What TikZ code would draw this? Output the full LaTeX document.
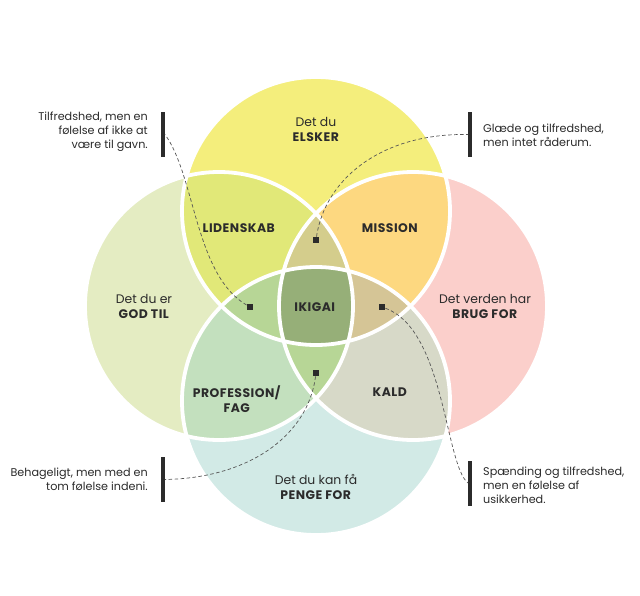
\documentclass[tikz,border=0pt]{standalone}
\usepackage{fontspec}
\setmainfont{Poppins}[BoldFeatures={LetterSpace=4}]
\definecolor{cTop}{HTML}{F4EE7C}
\definecolor{cLeft}{HTML}{E4ECC2}
\definecolor{cRight}{HTML}{FBCFCB}
\definecolor{cBot}{HTML}{D2EAE6}
\definecolor{cTL}{HTML}{E1E878}
\definecolor{cTR}{HTML}{FDD880}
\definecolor{cLB}{HTML}{C3E0BE}
\definecolor{cRB}{HTML}{D7D9C8}
\definecolor{cTLR}{HTML}{D4CD8C}
\definecolor{cTLB}{HTML}{B7D696}
\definecolor{cTRB}{HTML}{D5C596}
\definecolor{cLRB}{HTML}{B7D696}
\definecolor{cAll}{HTML}{96AF78}
\definecolor{ink}{HTML}{2B2B2B}
\def\circT{(316,211) circle[radius=134pt]}
\def\circL{(219,306) circle[radius=134pt]}
\def\circR{(413,306) circle[radius=134pt]}
\def\circB{(316,401) circle[radius=134pt]}
\tikzset{
  lbl/.style={text=ink, font=\fontsize{12.4}{15}\selectfont, align=center, inner sep=0pt},
  side/.style={text=ink, font=\fontsize{11.2}{14}\selectfont, inner sep=0pt},
  sq/.style={fill=ink, minimum size=6.5pt, inner sep=0pt},
  bar/.style={fill=ink, minimum width=3.5pt, minimum height=45pt, inner sep=0pt},
  conn/.style={draw=ink!80, line width=0.7pt, dash pattern=on 3.5pt off 2.5pt},
  ring/.style={draw=white, line width=3.8pt}
}
\begin{document}
\begin{tikzpicture}[x=1pt,y=-1pt]
\useasboundingbox[fill=white] (0,0) rectangle (640,595);
% singles
\fill[cTop] \circT; \fill[cLeft] \circL; \fill[cRight] \circR; \fill[cBot] \circB;
% pairs
\begin{scope}\clip \circT; \fill[cTL] \circL; \fill[cTR] \circR; \end{scope}
\begin{scope}\clip \circB; \fill[cLB] \circL; \fill[cRB] \circR; \end{scope}
% triples
\begin{scope}\clip \circT; \clip \circL; \fill[cTLR] \circR; \end{scope}
\begin{scope}\clip \circT; \clip \circL; \fill[cTLB] \circB; \end{scope}
\begin{scope}\clip \circT; \clip \circR; \fill[cTRB] \circB; \end{scope}
\begin{scope}\clip \circL; \clip \circR; \fill[cLRB] \circB; \end{scope}
% all
\begin{scope}\clip \circT; \clip \circL; \clip \circR; \fill[cAll] \circB; \end{scope}
% rings
\draw[ring] \circT; \draw[ring] \circL; \draw[ring] \circR; \draw[ring] \circB;
% labels
\node[lbl] (elsker) at (316,129) {Det du\\\textbf{ELSKER}};
\node[lbl] (lidenskab) at (239,228) {\textbf{LIDENSKAB}};
\node[lbl] (mission) at (390,228) {\textbf{MISSION}};
\node[lbl] (godtil) at (144,306) {Det du er\\\textbf{GOD TIL}};
\node[lbl] (ikigai) at (315,307) {\textbf{IKIGAI}};
\node[lbl] (brug) at (485,306) {Det verden har\\\textbf{BRUG FOR}};
\node[lbl] (prof) at (237,399) {\textbf{PROFESSION/}\\\textbf{FAG}};
\node[lbl] (kald) at (390,392) {\textbf{KALD}};
\node[lbl] (penge) at (316,487) {Det du kan få\\\textbf{PENGE FOR}};
% squares
\node[sq] (sqT) at (316,240) {};
\node[sq] (sqL) at (250,307) {};
\node[sq] (sqR) at (382,307) {};
\node[sq] (sqB) at (316,373) {};
% bars
\node[bar] (barTL) at (163,134.5) {};
\node[bar] (barTR) at (470,134.5) {};
\node[bar] (barBL) at (163,479.5) {};
\node[bar] (barBR) at (470,483) {};
% connectors
\draw[conn] (sqL) .. controls (195,275) and (195,175) .. (barTL.east);
\draw[conn] (sqT) .. controls (325,180) and (380,133) .. (barTR.west);
\draw[conn] (sqB) .. controls (308,435) and (250,478) .. (barBL.east);
\draw[conn] (sqR) .. controls (445,330) and (445,465) .. (barBR.west);
% side texts
\node[side, anchor=east, align=right] (tTL) at (148,132) {Tilfredshed, men en\\følelse af ikke at\\være til gavn.};
\node[side, anchor=west, align=left] (tTR) at (483,135) {Glæde og tilfredshed,\\men intet råderum.};
\node[side, anchor=east, align=right] (tBL) at (148,479) {Behageligt, men med en\\tom følelse indeni.};
\node[side, anchor=west, align=left] (tBR) at (483,485) {Spænding og tilfredshed,\\men en følelse af\\usikkerhed.};
\end{tikzpicture}
\end{document}
